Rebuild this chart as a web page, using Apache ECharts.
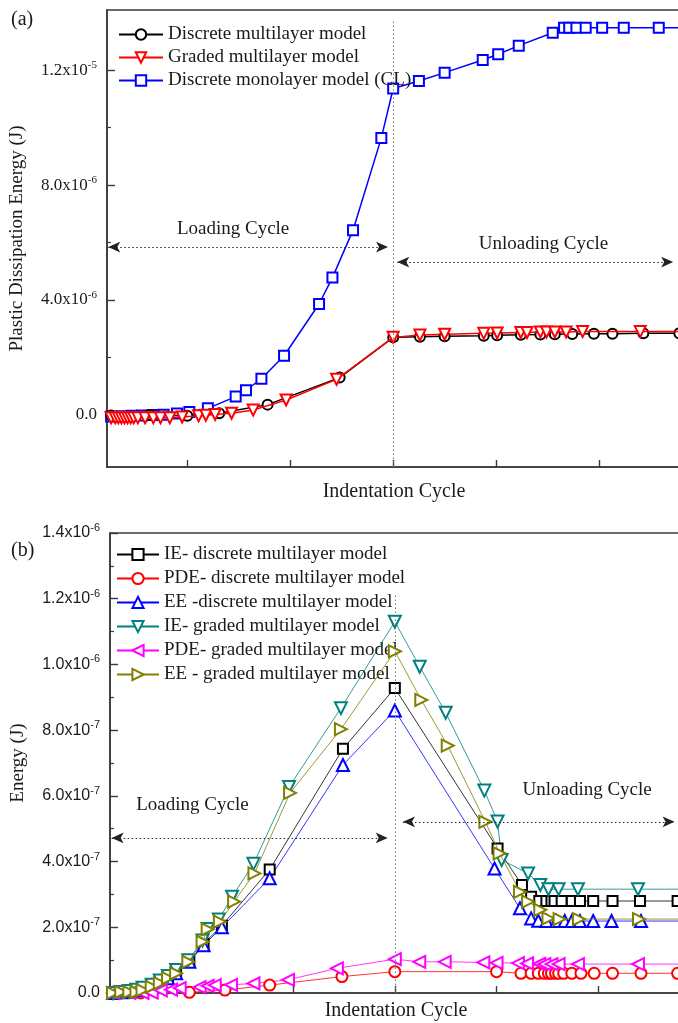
<!DOCTYPE html>
<html><head><meta charset="utf-8">
<script src="https://cdn.jsdelivr.net/npm/echarts@6/dist/echarts.min.js"></script>
<style>html,body{margin:0;padding:0;background:#fff}#c{width:678px;height:1023px}</style>
</head><body><div id="c"></div>
<script>
// ===== Panel (a): Plastic dissipation energy (values in 1e-6 J) =====
const aDiscreteX = [0.26,0.64,1.00,1.31,1.78,2.48,3.00,3.26,3.50,3.88,4.01,4.24,4.43,4.57,4.74,4.95,5.13,5.43,5.78,6.20];
const aDiscreteY = [-0.02,0.00,-0.03,0.06,0.36,1.30,2.70,2.72,2.74,2.76,2.77,2.79,2.80,2.81,2.82,2.83,2.83,2.84,2.84,2.84];
const aGradedX = [0.26,0.30,0.33,0.36,0.39,0.42,0.45,0.48,0.52,0.59,0.67,0.74,0.83,0.95,1.11,1.18,1.27,1.43,1.64,1.96,2.45,3.00,3.26,3.50,3.88,4.01,4.24,4.30,4.43,4.49,4.57,4.68,4.84,5.40,6.20];
const aGradedY = [-0.10,-0.10,-0.10,-0.10,-0.10,-0.10,-0.10,-0.10,-0.10,-0.10,-0.10,-0.10,-0.10,-0.07,-0.03,-0.01,0.02,0.06,0.17,0.52,1.24,2.70,2.78,2.81,2.84,2.85,2.87,2.87,2.89,2.89,2.89,2.89,2.90,2.90,2.90];
const aMonoX = [0.26,0.36,0.46,0.56,0.66,0.77,0.90,1.02,1.20,1.47,1.57,1.72,1.94,2.28,2.41,2.61,2.885,3.00,3.25,3.50,3.87,4.02,4.22,4.55,4.66,4.71,4.78,4.87,5.03,5.24,5.58,6.10];
const aMonoY = [-0.05,-0.04,-0.03,-0.02,0.00,0.01,0.05,0.10,0.23,0.64,0.86,1.26,2.06,3.86,4.78,6.43,9.64,11.36,11.62,11.91,12.35,12.55,12.85,13.30,13.47,13.47,13.47,13.47,13.47,13.47,13.47,13.47];
const aNames = ['Discrete multilayer model','Graded multilayer model','Discrete monolayer model (CL)'];
const aYTickValues = [0, 4e-6, 8e-6, 1.2e-5];
const aYTickMant = ['0.0','4.0x10','8.0x10','1.2x10'];
const aYTickExp = ['','-6','-6','-5'];
const aYMinorTicks = [2e-6, 6e-6, 1e-5];
const aXTicks = [1,2,3,4,5];

// ===== Panel (b): Energy (values in 1e-7 J) =====
const bDiscX = [0.23,0.31,0.39,0.46,0.52,0.61,0.69,0.77,0.85,0.98,1.12,1.30,1.77,2.49,3.00,4.01,4.25,4.34,4.42,4.49,4.54,4.57,4.64,4.74,4.82,4.95,5.14,5.41,5.78,6.20];
const bIEDisc = [0.00,0.02,0.05,0.10,0.15,0.25,0.38,0.50,0.65,0.95,1.50,2.05,3.76,7.43,9.28,4.40,3.29,2.93,2.80,2.80,2.80,2.80,2.80,2.80,2.80,2.80,2.80,2.80,2.80,2.80];
const bEEDiscX = [0.23,0.31,0.39,0.46,0.52,0.61,0.69,0.77,0.85,0.98,1.12,1.30,1.77,2.49,3.00,3.98,4.23,4.34,4.41,4.49,4.59,4.67,4.74,4.82,4.95,5.13,5.42,6.20];
const bEEDisc = [0.00,0.02,0.04,0.08,0.13,0.22,0.33,0.45,0.60,0.95,1.45,2.00,3.49,6.94,8.60,3.79,2.58,2.27,2.20,2.19,2.19,2.19,2.19,2.19,2.19,2.19,2.19,2.19];
const bPDEDiscX = [0.23,0.50,0.98,1.33,1.77,2.48,3.00,4.00,4.24,4.34,4.41,4.47,4.51,4.54,4.58,4.61,4.66,4.74,4.83,4.96,5.14,5.42,5.78,6.20];
const bPDEDisc = [0.00,0.00,0.02,0.09,0.24,0.50,0.65,0.65,0.60,0.60,0.60,0.60,0.60,0.60,0.60,0.60,0.60,0.60,0.60,0.60,0.60,0.60,0.60,0.60];
const bIEGradX = [0.23,0.31,0.39,0.46,0.52,0.61,0.69,0.77,0.85,0.97,1.11,1.16,1.27,1.40,1.61,1.96,2.47,3.00,3.245,3.50,3.88,4.01,4.05,4.31,4.43,4.51,4.61,4.80,5.39,6.20];
const bIEGrad = [0.00,0.03,0.06,0.10,0.16,0.25,0.38,0.52,0.70,1.00,1.60,1.95,2.24,2.93,3.93,6.27,8.67,11.30,9.93,8.53,6.16,5.22,4.05,3.64,3.29,3.16,3.16,3.16,3.16,3.16];
const bEEGradX = [0.23,0.31,0.39,0.46,0.52,0.61,0.69,0.77,0.85,0.97,1.11,1.16,1.28,1.42,1.62,1.97,2.47,3.00,3.26,3.52,3.89,4.03,4.23,4.31,4.43,4.51,4.62,4.81,5.40,6.20];
const bEEGrad = [0.00,0.03,0.03,0.03,0.09,0.19,0.30,0.45,0.60,0.95,1.56,1.94,2.17,2.78,3.64,6.09,8.03,10.40,8.92,7.53,5.21,4.25,3.08,2.78,2.53,2.27,2.25,2.25,2.25,2.25];
const bPDEGradX = [0.23,0.39,0.52,0.61,0.70,0.80,0.885,1.08,1.16,1.23,1.39,1.61,1.95,2.43,3.00,3.24,3.49,3.87,4.00,4.21,4.30,4.42,4.47,4.54,4.61,4.80,5.39,6.20];
const bPDEGrad = [0.00,0.00,0.00,0.01,0.08,0.10,0.15,0.18,0.22,0.24,0.25,0.29,0.40,0.75,1.03,0.95,0.95,0.93,0.92,0.91,0.90,0.89,0.88,0.88,0.88,0.88,0.88,0.88];
const bNames = ['IE- discrete multilayer model','PDE- discrete multilayer model','EE -discrete multilayer model','IE- graded multilayer model','PDE- graded multilayer model','EE - graded multilayer model'];
const bYTickValues = [0,2e-7,4e-7,6e-7,8e-7,1e-6,1.2e-6,1.4e-6];
const bYTickMant = ['0.0','2.0x10','4.0x10','6.0x10','8.0x10','1.0x10','1.2x10','1.4x10'];
const bYTickExp = ['','-7','-7','-7','-7','-6','-6','-6'];
const bXTicks = [1,2,3,4,5];

const pairs = (xs, ys, k) => xs.map((x, i) => [x, ys[i] * k]);
function tickFmt(vals, mant, exp) {
  return function (v) {
    let bi = 0, bd = Infinity;
    vals.forEach((t, i) => { const d = Math.abs(t - v); if (d < bd) { bd = d; bi = i; } });
    if (bd > Math.abs(vals[1] - vals[0]) * 0.1) return '';
    return exp[bi] ? '{b|' + mant[bi] + '}{s|' + exp[bi] + '}' : '{b|' + mant[bi] + '}';
  };
}
const SERIF = 'Liberation Serif';
const SANS = 'Liberation Sans';
const TXT = '#1a1a1a';
const FRAME = '#3a3a3a';

const aYMin = -1.81e-6, aYMax = 14.09e-6;
const bYMin = 0, bYMax = 1.4e-6;

function lineSeries(name, data, color, symbol, rotate, size, xi, yi, lw, z) {
  return {
    type: 'line', name, data, xAxisIndex: xi, yAxisIndex: yi,
    symbol, symbolSize: size, symbolRotate: rotate, showAllSymbol: true,
    lineStyle: { color, width: lw }, itemStyle: { color, borderColor: color, borderWidth: 1.6 },
    emphasis: { disabled: true }, z: z || 2, clip: true
  };
}

const arrowLine = (x1, x2, y) => [
  { coord: [x1, y], symbol: 'arrow', symbolSize: [8, 12] },
  { coord: [x2, y], symbol: 'arrow', symbolSize: [8, 12] }
];
const vLine = (x, y1, y2) => [
  { coord: [x, y1], symbol: 'none' },
  { coord: [x, y2], symbol: 'none', lineStyle: { color: '#777', type: [1.5, 2.5], width: 1 } }
];
const annoText = (name, x, y) => ({ name, coord: [x, y] });

const sBlue = lineSeries(aNames[2], pairs(aMonoX, aMonoY, 1e-6), '#0000ff', 'emptyRect', 0, 10, 0, 0, 1.5, 2);
sBlue.markLine = {
  silent: true, animation: false, label: { show: false },
  lineStyle: { color: '#222', type: [1.5, 2.5], width: 1 },
  data: [vLine(3, aYMin, 13.7e-6), arrowLine(0.232, 2.95, 5.84e-6), arrowLine(3.04, 5.72, 5.32e-6)]
};
sBlue.markPoint = {
  silent: true, animation: false, symbol: 'circle', symbolSize: 1, itemStyle: { color: 'rgba(0,0,0,0)' },
  label: { show: true, position: 'inside', formatter: '{b}', color: TXT, fontFamily: SERIF, fontSize: 19 },
  data: [annoText('Loading Cycle', 1.445, 6.47e-6), annoText('Unloading Cycle', 4.46, 5.95e-6)]
};
const sBlack = lineSeries(aNames[0], pairs(aDiscreteX, aDiscreteY, 1e-6), '#000000', 'emptyCircle', 0, 10, 0, 0, 1.5, 3);
const sRed = lineSeries(aNames[1], pairs(aGradedX, aGradedY, 1e-6), '#ff0000', 'emptyTriangle', 180, 11, 0, 0, 1.5, 4);

const bIE = lineSeries(bNames[0], pairs(bDiscX, bIEDisc, 1e-7), '#000000', 'emptyRect', 0, 10, 1, 2, 0.8, 3);
const bPDE = lineSeries(bNames[1], pairs(bPDEDiscX, bPDEDisc, 1e-7), '#ff0000', 'emptyCircle', 0, 11, 1, 2, 0.8, 3);
const bEE = lineSeries(bNames[2], pairs(bEEDiscX, bEEDisc, 1e-7), '#0000ff', 'emptyTriangle', 0, 12, 1, 2, 0.8, 3);
const bIEg = lineSeries(bNames[3], pairs(bIEGradX, bIEGrad, 1e-7), '#008080', 'emptyTriangle', 180, 12, 1, 2, 0.8, 3);
const bPDEg = lineSeries(bNames[4], pairs(bPDEGradX, bPDEGrad, 1e-7), '#ff00ff', 'emptyTriangle', 90, 12, 1, 2, 0.8, 3);
const bEEg = lineSeries(bNames[5], pairs(bEEGradX, bEEGrad, 1e-7), '#808000', 'emptyTriangle', -90, 12, 1, 2, 0.8, 4);
bIE.markLine = {
  silent: true, animation: false, label: { show: false },
  lineStyle: { color: '#222', type: [1.5, 2.5], width: 1 },
  data: [vLine(3, 0, 1.21e-6), arrowLine(0.216, 2.93, 4.72e-7), arrowLine(3.08, 5.75, 5.21e-7)]
};
bIE.markPoint = {
  silent: true, animation: false, symbol: 'circle', symbolSize: 1, itemStyle: { color: 'rgba(0,0,0,0)' },
  label: { show: true, position: 'inside', formatter: '{b}', color: TXT, fontFamily: SERIF, fontSize: 19 },
  data: [annoText('Loading Cycle', 1.01, 5.72e-7), annoText('Unloading Cycle', 4.89, 6.18e-7)]
};

const richA = { b: { fontFamily: SERIF, fontSize: 17, color: TXT }, s: { fontFamily: SERIF, fontSize: 11, color: TXT, padding: [0, 0, 10, 0] } };
const richB = { b: { fontFamily: SANS, fontSize: 16, color: TXT }, s: { fontFamily: SANS, fontSize: 11, color: TXT, padding: [0, 0, 10, 0] } };

const xAxisCommon = (gi, min, max, nameGap, padR) => ({
  type: 'value', gridIndex: gi, min, max,
  name: 'Indentation Cycle', nameLocation: 'middle', nameGap,
  nameTextStyle: { fontFamily: SERIF, fontSize: 20, color: TXT, padding: [0, padR, 0, 0] },
  axisLine: { show: true, onZero: false, lineStyle: { color: FRAME, width: 1.6 } },
  axisTick: { show: true, inside: true, length: 7, customValues: aXTicks, lineStyle: { color: FRAME, width: 1.4 } },
  axisLabel: { show: false }, splitLine: { show: false }
});

const option = {
  animation: false,
  backgroundColor: '#ffffff',
  textStyle: { fontFamily: SERIF },
  title: [
    { text: '(a)', left: 6, top: 5, textStyle: { fontFamily: SERIF, fontSize: 20, fontWeight: 'normal', color: TXT } },
    { text: '(b)', left: 6, top: 536, textStyle: { fontFamily: SERIF, fontSize: 20, fontWeight: 'normal', color: TXT } }
  ],
  grid: [
    { left: 107, top: 10, right: -24, bottom: 556, show: true, borderColor: FRAME, borderWidth: 1.6, containLabel: false, outerBoundsMode: 'none' },
    { left: 110, top: 533, right: -22, bottom: 30, show: true, borderColor: FRAME, borderWidth: 1.6, containLabel: false, outerBoundsMode: 'none' }
  ],
  legend: [
    { data: aNames, orient: 'vertical', left: 113, top: 20, itemWidth: 44, itemHeight: 13, itemGap: 4,
      textStyle: { fontFamily: SERIF, fontSize: 19, color: TXT, lineHeight: 19 }, selectedMode: false, backgroundColor: 'transparent' },
    { data: bNames, orient: 'vertical', left: 111, top: 540, itemWidth: 42, itemHeight: 14, itemGap: 5,
      textStyle: { fontFamily: SERIF, fontSize: 19, color: TXT, lineHeight: 19 }, selectedMode: false, backgroundColor: 'transparent' }
  ],
  xAxis: [
    xAxisCommon(0, 0.22, 6.0, 15, 21),
    Object.assign(xAxisCommon(1, 0.2, 6.0, 8, 18), { axisTick: { show: true, inside: true, length: 7, customValues: bXTicks, lineStyle: { color: FRAME, width: 1.4 } } })
  ],
  yAxis: [
    { type: 'value', gridIndex: 0, position: 'left', min: aYMin, max: aYMax,
      name: 'Plastic Dissipation Energy (J)', nameLocation: 'middle', nameGap: 80,
      nameTextStyle: { fontFamily: SERIF, fontSize: 19, color: TXT },
      axisLine: { show: true, onZero: false, lineStyle: { color: FRAME, width: 1.6 } },
      axisTick: { show: true, inside: true, length: 8, customValues: aYTickValues, lineStyle: { color: FRAME, width: 1.4 } },
      axisLabel: { show: true, margin: 10, customValues: aYTickValues, formatter: tickFmt(aYTickValues, aYTickMant, aYTickExp), rich: richA },
      splitLine: { show: false } },
    { type: 'value', gridIndex: 0, position: 'left', min: aYMin, max: aYMax,
      axisLine: { show: false },
      axisTick: { show: true, inside: true, length: 4, customValues: aYMinorTicks, lineStyle: { color: FRAME, width: 1.2 } },
      axisLabel: { show: false }, splitLine: { show: false } },
    { type: 'value', gridIndex: 1, position: 'left', min: bYMin, max: bYMax, interval: 2e-7,
      name: 'Energy (J)', nameLocation: 'middle', nameGap: 82,
      nameTextStyle: { fontFamily: SERIF, fontSize: 19, color: TXT },
      axisLine: { show: true, onZero: false, lineStyle: { color: FRAME, width: 1.6 } },
      axisTick: { show: true, inside: true, length: 8, lineStyle: { color: FRAME, width: 1.4 } },
      minorTick: { show: true, splitNumber: 2, length: 4, lineStyle: { color: FRAME, width: 1.2 } },
      axisLabel: { show: true, margin: 10, formatter: tickFmt(bYTickValues, bYTickMant, bYTickExp), rich: richB },
      splitLine: { show: false } }
  ],
  series: [sBlue, sBlack, sRed, bIE, bPDE, bEE, bIEg, bPDEg, bEEg]
};
const chart = echarts.init(document.getElementById('c'), null, { renderer: 'canvas' });
chart.setOption(option);
</script>
</body></html>
